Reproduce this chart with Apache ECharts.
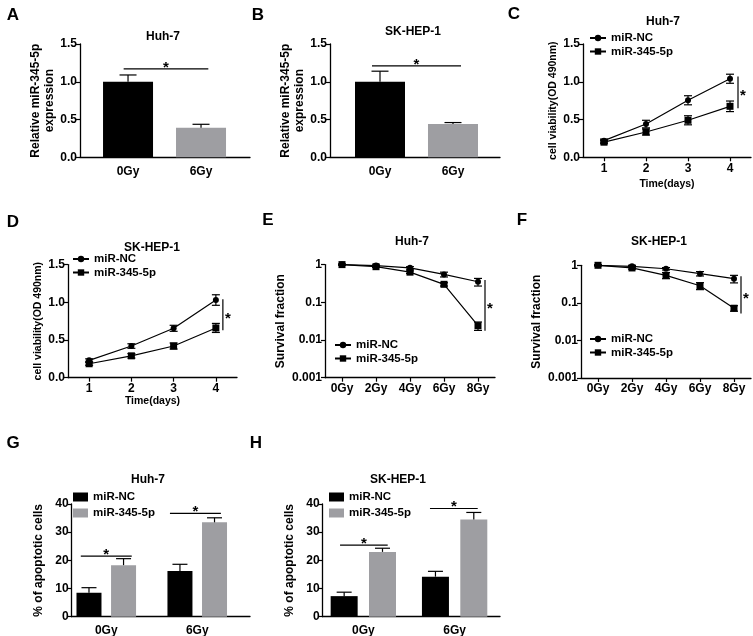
<!DOCTYPE html>
<html><head><meta charset="utf-8">
<script src="https://cdn.jsdelivr.net/npm/echarts@6/dist/echarts.min.js"></script>
<style>html,body{margin:0;padding:0;background:#fff}#c{width:753px;height:636px}</style>
</head><body><div id="c"></div>
<script>
// ---------------- DATA ----------------
const doseCats2 = ['0Gy', '6Gy'];
const exprA = [1.0, 0.39];
const exprErrA = [0.09, 0.047];
const exprB = [1.0, 0.44];
const exprErrB = [0.14, 0.02];

const days = ['1', '2', '3', '4'];
const viabC_NC = [0.22, 0.44, 0.755, 1.04];
const viabC_NC_err = [0.02, 0.05, 0.06, 0.06];
const viabC_345 = [0.20, 0.335, 0.49, 0.675];
const viabC_345_err = [0.02, 0.04, 0.06, 0.07];
const viabD_NC = [0.23, 0.42, 0.655, 1.03];
const viabD_NC_err = [0.02, 0.03, 0.04, 0.07];
const viabD_345 = [0.185, 0.29, 0.42, 0.66];
const viabD_345_err = [0.02, 0.03, 0.04, 0.06];

const doseCats5 = ['0Gy', '2Gy', '4Gy', '6Gy', '8Gy'];
const survE_NC = [1.0, 0.94, 0.82, 0.55, 0.35];
const survE_NC_err = [0.03, 0.04, 0.06, 0.08, 0.08];
const survE_345 = [1.0, 0.88, 0.63, 0.30, 0.024];
const survE_345_err = [0.03, 0.04, 0.05, 0.03, 0.006];
const survF_NC = [1.0, 0.94, 0.81, 0.60, 0.44];
const survF_NC_err = [0.03, 0.05, 0.06, 0.08, 0.1];
const survF_345 = [1.0, 0.85, 0.54, 0.285, 0.072];
const survF_345_err = [0.03, 0.06, 0.1, 0.06, 0.012];

const apopG_NC = [8.5, 16.2];
const apopG_NC_err = [1.8, 2.4];
const apopG_345 = [18.3, 33.5];
const apopG_345_err = [2.3, 1.6];
const apopH_NC = [7.3, 14.2];
const apopH_NC_err = [1.4, 1.9];
const apopH_345 = [23.0, 34.5];
const apopH_345_err = [1.3, 2.5];

const seriesNames = ['miR-NC', 'miR-345-5p'];
const panelLetters = ['A', 'B', 'C', 'D', 'E', 'F', 'G', 'H'];
const panelTitles = ['Huh-7', 'SK-HEP-1', 'Huh-7', 'SK-HEP-1', 'Huh-7', 'SK-HEP-1', 'Huh-7', 'SK-HEP-1'];
const yNameExpr = 'Relative miR-345-5p\nexpression';
const yNameViab = 'cell viability(OD 490nm)';
const xNameViab = 'Time(days)';
const yNameSurv = 'Survival fraction';
const yNameApop = '% of apoptotic cells';

// significance annotations (data space)
const sigA = [[-0.06, 1.10, 1.17]];
const sigB = [[-0.11, 1.11, 1.21]];
const sigC = [[3, 0.65, 1.07]];
const sigD = [[3, 0.63, 1.04]];
const sigE = [[4, 0.0177, 0.39]];
const sigF = [[4, 0.052, 0.51]];
const sigG = [[-0.28, 0.28, 21.5], [0.70, 1.26, 36.7]];
const sigH = [[-0.255, 0.267, 25.4], [0.73, 1.253, 38.4]];

// ---------------- LAYOUT / STYLE ----------------
const F = '"Liberation Sans", Arial, Helvetica, sans-serif';
const BLACK = '#000000', GREY = '#9e9ea2';
const letterPos = [[13, 15], [258, 15], [514, 14], [13, 222], [268, 220], [522, 220], [13, 443], [256, 443]];
const titlePos = [[163, 37], [413, 32], [663, 22], [152, 248], [412, 242], [659, 242], [148, 480], [398, 480]];
const grids = [
  {left: 80, top: 44, width: 170, height: 113.3},
  {left: 330, top: 44, width: 170, height: 113.3},
  {left: 583, top: 44, width: 168, height: 113.3},
  {left: 68, top: 264.6, width: 169, height: 113.1},
  {left: 325, top: 264.6, width: 170, height: 113.1},
  {left: 581, top: 265.3, width: 170, height: 112.7},
  {left: 71.7, top: 504, width: 178.3, height: 112.7},
  {left: 322.7, top: 504, width: 177.3, height: 112.7}
].map(g => Object.assign({outerBoundsMode: 'none', containLabel: false}, g));

const lineW = 1.2;
const labelStyle = {color: BLACK, fontFamily: F, fontWeight: 'bold', fontSize: 12};
const axisLineStyle = {show: true, onZero: false, lineStyle: {color: BLACK, width: 1.3}};
const tickStyle = {show: true, length: 4, inside: false, lineStyle: {color: BLACK, width: 1.2}};

function yAx(gi, o) {
  return Object.assign({
    gridIndex: gi, type: 'value', axisLine: axisLineStyle, axisTick: tickStyle,
    axisLabel: Object.assign({margin: 3}, labelStyle), splitLine: {show: false},
    nameLocation: 'middle', nameRotate: 90,
    nameTextStyle: {color: BLACK, fontFamily: F, fontWeight: 'bold', fontSize: 12, lineHeight: 14}
  }, o);
}
function xValAx(gi, cats, min, max) {
  return {
    gridIndex: gi, type: 'value', min: min, max: max,
    axisLine: axisLineStyle, axisTick: {show: false}, splitLine: {show: false},
    axisLabel: Object.assign({margin: 8, customValues: cats.map((c, i) => i), formatter: v => cats[Math.round(v)]}, labelStyle)
  };
}
function xCatAx(gi, cats, o) {
  return Object.assign({
    gridIndex: gi, type: 'category', data: cats, boundaryGap: true,
    axisLine: axisLineStyle, axisTick: Object.assign({alignWithLabel: true}, tickStyle),
    axisLabel: Object.assign({margin: 5, interval: 0}, labelStyle), splitLine: {show: false}
  }, o);
}

function errBar(half, both) {
  return function (params, api) {
    const x = api.value(0), y = api.value(1), e = api.value(2);
    const t = api.coord([x, y + e]);
    const b = api.coord([x, both ? y - e : y]);
    const st = {stroke: BLACK, lineWidth: lineW};
    const ch = [
      {type: 'line', shape: {x1: t[0], y1: t[1], x2: b[0], y2: b[1]}, style: st},
      {type: 'line', shape: {x1: t[0] - half, y1: t[1], x2: t[0] + half, y2: t[1]}, style: st}
    ];
    if (both) ch.push({type: 'line', shape: {x1: b[0] - half, y1: b[1], x2: b[0] + half, y2: b[1]}, style: st});
    return {type: 'group', children: ch};
  };
}
function sigHRender(params, api) {
  const p0 = api.coord([api.value(0), api.value(2)]);
  const p1 = api.coord([api.value(1), api.value(2)]);
  return {type: 'group', children: [
    {type: 'line', shape: {x1: p0[0], y1: p0[1], x2: p1[0], y2: p1[1]}, style: {stroke: BLACK, lineWidth: lineW}},
    {type: 'text', style: {text: '*', x: (p0[0] + p1[0]) / 2, y: p0[1] + 6, align: 'center', verticalAlign: 'bottom', font: 'bold 15px ' + F, fill: BLACK}}
  ]};
}
function sigVRender(off) {
  return function (params, api) {
    const p0 = api.coord([api.value(0), api.value(1)]);
    const p1 = api.coord([api.value(0), api.value(2)]);
    const x = p0[0] + off;
    return {type: 'group', children: [
      {type: 'line', shape: {x1: x, y1: p0[1], x2: x, y2: p1[1]}, style: {stroke: BLACK, lineWidth: lineW}},
      {type: 'text', style: {text: '*', x: x + 2, y: (p0[1] + p1[1]) / 2 + 4, align: 'left', verticalAlign: 'middle', font: 'bold 15px ' + F, fill: BLACK}}
    ]};
  };
}

const series = [];
const legends = [];
let uid = 0;
function custom(gi, data, render, enc) {
  series.push({type: 'custom', name: '_c' + (uid++), xAxisIndex: gi, yAxisIndex: gi, data: data,
    renderItem: render, encode: enc || {x: 0, y: 1}, z: 5, silent: true});
}

// ---- A, B: single bar charts ----
[[0, exprA, exprErrA, sigA], [1, exprB, exprErrB, sigB]].forEach(([gi, vals, errs, sig]) => {
  series.push({type: 'bar', name: 'bar' + gi, xAxisIndex: gi, yAxisIndex: gi, barWidth: 50,
    data: vals.map((v, i) => ({value: [i, v], itemStyle: {color: i === 0 ? BLACK : GREY}}))});
  custom(gi, vals.map((v, i) => [i, v, errs[i]]), errBar(8.5, false));
  custom(gi, sig, sigHRender, {x: [0, 1], y: 2});
});

// ---- C, D, E, F: line charts ----
[[2, 'C', viabC_NC, viabC_NC_err, viabC_345, viabC_345_err, sigC, 8],
 [3, 'D', viabD_NC, viabD_NC_err, viabD_345, viabD_345_err, sigD, 7],
 [4, 'E', survE_NC, survE_NC_err, survE_345, survE_345_err, sigE, 7],
 [5, 'F', survF_NC, survF_NC_err, survF_345, survF_345_err, sigF, 7]].forEach(([gi, key, nc, ncE, m, mE, sig, off]) => {
  [[nc, ncE, 'circle', 6], [m, mE, 'rect', 7]].forEach(([vals, errs, sym, sz], k) => {
    series.push({type: 'line', name: seriesNames[k] + '|' + key, xAxisIndex: gi, yAxisIndex: gi,
      data: vals, symbol: sym, symbolSize: sz, showSymbol: true, color: BLACK,
      itemStyle: {color: BLACK}, lineStyle: {color: BLACK, width: lineW}, z: 4, silent: true});
    custom(gi, vals.map((v, i) => [i, v, errs[i]]), errBar(4, true));
  });
  custom(gi, sig, sigVRender(off), {x: 0, y: [1, 2]});
});

// ---- G, H: grouped bars ----
[[6, 'G', apopG_NC, apopG_NC_err, apopG_345, apopG_345_err, sigG, 0.19, 25],
 [7, 'H', apopH_NC, apopH_NC_err, apopH_345, apopH_345_err, sigH, 0.21, 27]].forEach(([gi, key, nc, ncE, m, mE, sig, dx, bw]) => {
  [[nc, ncE, -dx, BLACK], [m, mE, dx, GREY]].forEach(([vals, errs, o, col], k) => {
    series.push({type: 'bar', name: seriesNames[k] + '|' + key, xAxisIndex: gi, yAxisIndex: gi,
      barWidth: bw, barGap: '-100%', itemStyle: {color: col}, color: col,
      data: vals.map((v, i) => [i + o, v])});
    custom(gi, vals.map((v, i) => [i + o, v, errs[i]]), errBar(7.5, false));
  });
  custom(gi, sig, sigHRender, {x: [0, 1], y: 2});
});

// legends
const legendText = {color: BLACK, fontFamily: F, fontWeight: 'bold', fontSize: 11.5, lineHeight: 12};
[['C', 589, 32], ['D', 72, 253], ['E', 334, 339], ['F', 589, 333]].forEach(([key, l, t]) => {
  legends.push({data: seriesNames.map(n => n + '|' + key), orient: 'vertical', left: l, top: t,
    itemWidth: 16, itemHeight: 8, itemGap: 1.5, padding: 0, selectedMode: false,
    formatter: n => n.split('|')[0], textStyle: legendText});
});
[['G', 73, 491], ['H', 329, 491]].forEach(([key, l, t]) => {
  legends.push({data: seriesNames.map(n => ({name: n + '|' + key, icon: 'rect'})), orient: 'vertical', left: l, top: t,
    itemWidth: 15, itemHeight: 9, itemGap: 4, padding: 0, selectedMode: false,
    formatter: n => n.split('|')[0], textStyle: legendText});
});

const xAxes = [
  xValAx(0, doseCats2, -0.658, 1.671),
  xValAx(1, doseCats2, -0.685, 1.644),
  xCatAx(2, days, {name: xNameViab, nameLocation: 'middle', nameGap: 21,
    nameTextStyle: {color: BLACK, fontFamily: F, fontWeight: 'bold', fontSize: 10.5}}),
  xCatAx(3, days, {name: xNameViab, nameLocation: 'middle', nameGap: 16,
    nameTextStyle: {color: BLACK, fontFamily: F, fontWeight: 'bold', fontSize: 10.5}}),
  xCatAx(4, doseCats5),
  xCatAx(5, doseCats5),
  xValAx(6, doseCats2, -0.38, 1.58),
  xValAx(7, doseCats2, -0.445, 1.497)
];
const viabNameStyle = {color: BLACK, fontFamily: F, fontWeight: 'bold', fontSize: 10.5};
const yAxes = [
  yAx(0, {min: 0, max: 1.5, interval: 0.5, axisLabel: Object.assign({margin: 3, formatter: v => v.toFixed(1)}, labelStyle), name: yNameExpr, nameGap: 23}),
  yAx(1, {min: 0, max: 1.5, interval: 0.5, axisLabel: Object.assign({margin: 3, formatter: v => v.toFixed(1)}, labelStyle), name: yNameExpr, nameGap: 23}),
  yAx(2, {min: 0, max: 1.5, interval: 0.5, axisLabel: Object.assign({margin: 3, formatter: v => v.toFixed(1)}, labelStyle), name: yNameViab, nameGap: 24, nameTextStyle: viabNameStyle}),
  yAx(3, {min: 0, max: 1.5, interval: 0.5, axisLabel: Object.assign({margin: 3, formatter: v => v.toFixed(1)}, labelStyle), name: yNameViab, nameGap: 24, nameTextStyle: viabNameStyle}),
  yAx(4, {type: 'log', logBase: 10, min: 0.001, max: 1, name: yNameSurv, nameGap: 35}),
  yAx(5, {type: 'log', logBase: 10, min: 0.001, max: 1, name: yNameSurv, nameGap: 35}),
  yAx(6, {min: 0, max: 40, interval: 10, name: yNameApop, nameGap: 26}),
  yAx(7, {min: 0, max: 40, interval: 10, name: yNameApop, nameGap: 26})
];

const graphics = [];
panelLetters.forEach((t, i) => graphics.push({type: 'text', x: letterPos[i][0], y: letterPos[i][1],
  style: {text: t, font: 'bold 17px ' + F, fill: BLACK, align: 'center', verticalAlign: 'middle'}}));
panelTitles.forEach((t, i) => graphics.push({type: 'text', x: titlePos[i][0], y: titlePos[i][1],
  style: {text: t, font: 'bold 12px ' + F, fill: BLACK, align: 'center', verticalAlign: 'middle'}}));

const chart = echarts.init(document.getElementById('c'), null, {renderer: 'canvas', width: 753, height: 636});
chart.setOption({
  animation: false,
  backgroundColor: '#ffffff',
  grid: grids,
  xAxis: xAxes,
  yAxis: yAxes,
  legend: legends,
  series: series,
  graphic: graphics
});
</script></body></html>
